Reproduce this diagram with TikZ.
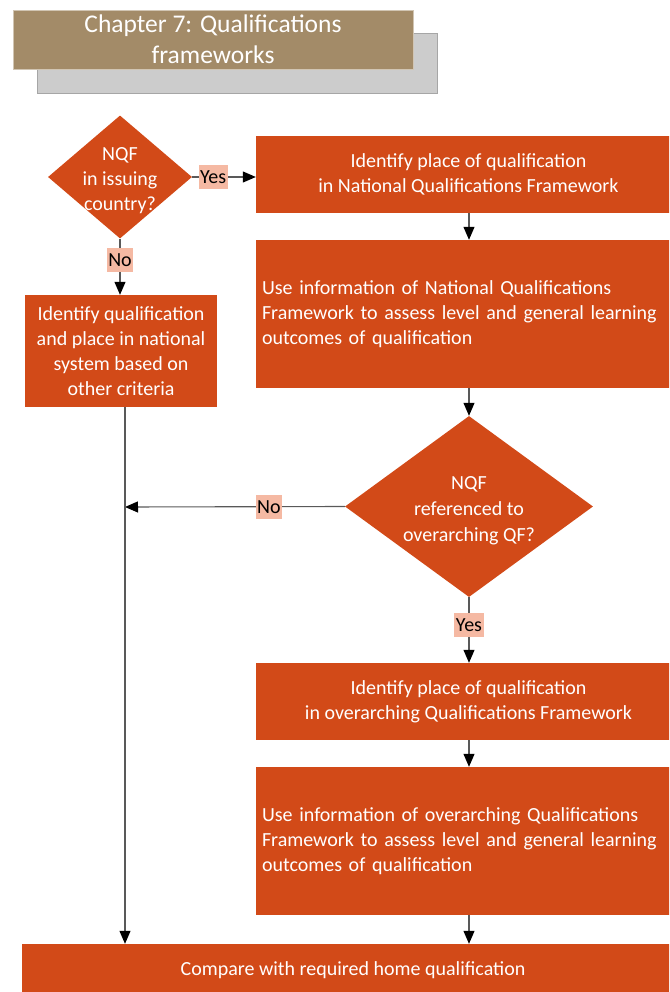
\documentclass[tikz,border=0pt]{standalone}
\usepackage{fontspec}
\setmainfont{Carlito}
\usetikzlibrary{arrows.meta,shapes.geometric}
\definecolor{orng}{HTML}{D24A18}
\definecolor{pinklab}{HTML}{F5B9A3}
\definecolor{tanbox}{HTML}{A38B68}
\definecolor{shad}{HTML}{CCCCCC}
\definecolor{lin}{HTML}{595959}
\begin{document}
\begin{tikzpicture}[x=1pt,y=-1pt,
  box/.style={fill=orng, text=white, inner sep=0pt, font=\fontsize{20}{25}\selectfont, align=center},
  lbox/.style={fill=orng, text=white, inner ysep=0pt, inner xsep=6pt, font=\fontsize{20}{25}\selectfont, align=left},
  dia/.style={diamond, fill=orng, inner sep=0pt},
  dtext/.style={text=white, inner sep=0pt, align=center, yshift=-4pt},
  lab/.style={fill=pinklab, text=black, inner xsep=1.5pt, inner ysep=0pt, minimum height=24pt, font=\fontsize{20}{22}\selectfont},
  arr/.style={draw=lin, line width=1.1pt, -{Triangle[width=11pt,length=13pt,color=black]}}
]
\useasboundingbox (0,0) rectangle (669,992);
\clip (0,0) rectangle (669,992);

% title
\node[fill=shad, draw=black!35, minimum width=400pt, minimum height=60pt] (sh) at (237,63) {};
\node[fill=tanbox, draw=tanbox!50!white, minimum width=400pt, minimum height=59pt, inner sep=0pt, text=white, font=\fontsize{25.5}{31}\selectfont, align=center] (title) at (213,39.5) {Chapter 7: Qualifications\\frameworks};

% diamonds
\node[dia, minimum width=144pt, minimum height=123pt] (d1) at (120,177) {};
\node[dtext, font=\fontsize{20}{25}\selectfont] (t1) at (d1) {NQF\\in issuing\\country?};
\node[dia, minimum width=248pt, minimum height=181pt] (d2) at (469,506.5) {};
\node[dtext, font=\fontsize{20}{26}\selectfont] (t2) at (d2) {NQF\\referenced to\\overarching QF?};

% boxes
\node[box, minimum width=425pt, minimum height=77pt] (b1) at (468.5,174.5) {Identify place of qualification\\in National Qualifications Framework};
\node[lbox, text width=413pt, minimum height=148pt] (b2) at (468.5,314) {Use information of National Qualifications\\Framework to assess level and general learning\\outcomes of qualification};
\node[box, minimum width=425pt, minimum height=77pt] (b3) at (468.5,701.5) {Identify place of qualification\\in overarching Qualifications Framework};
\node[lbox, text width=413pt, minimum height=148pt] (b4) at (468.5,841) {Use information of overarching Qualifications\\Framework to assess level and general learning\\outcomes of qualification};
\node[box, minimum width=192pt, minimum height=112pt] (b5) at (121,351) {Identify qualification\\and place in national\\system based on\\other criteria};
\node[box, minimum width=662pt, minimum height=52pt] (bot) at (353,970) {Compare with required home qualification};

\coordinate (j) at (125,507);

% connectors
\draw[arr] (d1.east) -- node[lab, pos=0.33] (l1) {Yes} (d1.east -| b1.west);
\draw[arr] (d1.south) -- node[lab, pos=0.38] (l2) {No} (d1.south |- b5.north);
\draw[arr] (b1.south -| d2) -- (b2.north -| d2);
\draw[arr] (b2.south -| d2) -- (d2.north);
\draw[arr] (d2.west) -- node[lab, pos=0.345] (l3) {No} (j);
\draw[arr] (d2.south) -- node[lab, pos=0.42] (l4) {Yes} (b3.north -| d2);
\draw[arr] (b3.south -| d2) -- (b4.north -| d2);
\draw[arr] (b4.south -| d2) -- (bot.north -| d2);
\draw[arr] (b5.south -| j) -- (bot.north -| j);
\end{tikzpicture}
\end{document}
